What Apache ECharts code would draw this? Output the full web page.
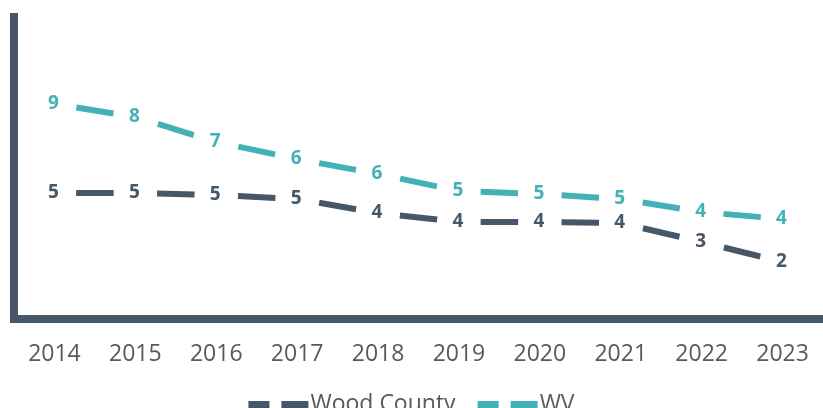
<!DOCTYPE html>
<html><head><meta charset="utf-8">
<script src="https://cdn.jsdelivr.net/npm/echarts@6/dist/echarts.min.js"></script>
<style>html,body{margin:0;padding:0;background:#fff}#c{width:823px;height:408px}</style>
</head><body><div id="c"></div>
<script>
const categories = ['2014','2015','2016','2017','2018','2019','2020','2021','2022','2023'];
const woodCounty = [5.04, 5.04, 4.96, 4.8, 4.24, 3.88, 3.88, 3.84, 3.08, 2.28];
const wv = [8.6, 8.08, 7.08, 6.4, 5.8, 5.12, 5.0, 4.8, 4.28, 4.0];
const seriesNames = ['Wood County', 'WV'];

const DARK = '#465767', TEAL = '#43B1B5', TXT = '#595959';
const DASH = 37.5, BIGGAP = 1000;
const chart = echarts.init(document.getElementById('c'), null, {renderer: 'canvas'});

function labelSeries(name, data, color) {
  return {
    name, type: 'line', data, symbol: 'circle', symbolSize: 1,
    itemStyle: {color}, lineStyle: {width: 0, opacity: 0},
    label: {show: true, position: 'inside', offset: [-1, 0], formatter: p => Math.round(p.value),
      color, fontFamily: 'Open Sans', fontWeight: 'bold', fontSize: 19},
    z: 5, silent: true, animation: false
  };
}
function segSeries(name, data, color, i, dash) {
  const d = data.map((v, j) => (j === i || j === i + 1) ? v : '-');
  return {
    name, type: 'line', data: d, symbol: 'none', connectNulls: false,
    lineStyle: {color, width: 6, type: dash.type, dashOffset: dash.offset, cap: 'butt'},
    itemStyle: {color}, silent: true, animation: false, z: 2
  };
}
function defDash() { return {type: [DASH, 44.5], offset: 82 - 22.25}; }
function dashFor(data, i) {
  const p1 = chart.convertToPixel({gridIndex: 0}, [i, data[i]]);
  const p2 = chart.convertToPixel({gridIndex: 0}, [i + 1, data[i + 1]]);
  const L = Math.hypot(p2[0] - p1[0], p2[1] - p1[1]);
  const s = (L - DASH) / 2;
  return {type: [DASH, BIGGAP], offset: DASH + BIGGAP - s};
}
function build(dashFn) {
  const series = [];
  const lines = [[seriesNames[0], woodCounty, DARK], [seriesNames[1], wv, TEAL]];
  lines.forEach(([name, data, color]) => {
    for (let i = 0; i < data.length - 1; i++) series.push(segSeries(name, data, color, i, dashFn(data, i)));
  });
  lines.forEach(([name, data, color]) => series.push(labelSeries(name, data, color)));
  return {
    animation: false,
    backgroundColor: '#fff',
    grid: {left: 14, right: -12, top: 17, bottom: 89},
    legend: {
      left: 'center', top: 388,
      data: [{name: seriesNames[0], itemStyle: {color: DARK}}, {name: seriesNames[1], itemStyle: {color: TEAL}}],
      icon: 'path://M0,0H21V7H0Z M33,0H60V7H33Z',
      itemWidth: 60, itemHeight: 7, itemGap: 22,
      textStyle: {color: TXT, fontFamily: 'Open Sans', fontSize: 23, lineHeight: 23, padding: [0, 0, 0, -3]}
    },
    xAxis: {
      type: 'category', data: categories,
      axisLine: {lineStyle: {color: DARK, width: 8, cap: 'square'}},
      axisTick: {show: false},
      axisLabel: {color: TXT, fontFamily: 'Open Sans', fontSize: 23, lineHeight: 23, margin: 24}
    },
    yAxis: {
      type: 'value', min: 0, max: 12.08,
      axisLine: {show: true, lineStyle: {color: DARK, width: 8, cap: 'square'}},
      axisTick: {show: false}, axisLabel: {show: false}, splitLine: {show: false}
    },
    series
  };
}
chart.setOption(build(defDash));
chart.setOption(build(dashFor), true);
</script>
</body></html>
